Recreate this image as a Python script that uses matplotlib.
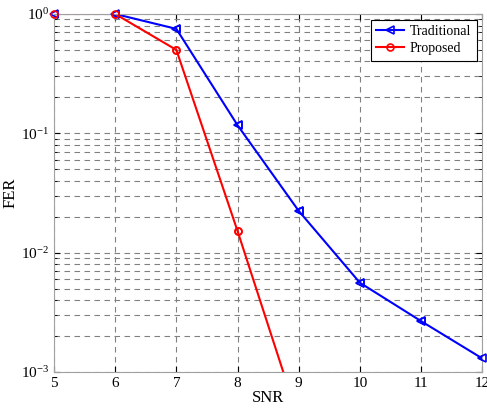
import numpy as np
import matplotlib
matplotlib.use('Agg')
import matplotlib.pyplot as plt
from matplotlib.ticker import LogLocator, NullFormatter

plt.rcParams['font.family'] = ['Liberation Serif', 'DejaVu Serif']
plt.rcParams['mathtext.fontset'] = 'stix'

# data
snr = [5, 6, 7, 8, 9, 10, 11, 12]
fer_traditional = [1.0, 1.0, 0.75, 0.117, 0.0224, 0.0056, 0.00267, 0.0013]
snr_proposed = [5, 6, 7, 8, 9]
fer_proposed = [1.0, 1.0, 0.50, 0.0152, 0.0004]

fig = plt.figure(figsize=(4.87, 4.11), dpi=100)
ax = fig.add_axes([0.111, 0.095, 0.879, 0.871])

ax.semilogy(snr, fer_traditional, color='#0000ff', lw=1.5, marker='<',
            ms=6, mfc='none', mew=1.2, label='Traditional')
ax.semilogy(snr_proposed, fer_proposed, color='#ff0000', lw=1.5, marker='o',
            ms=5, mfc='none', mew=1.2, label='Proposed')

# markers on the border are not clipped (matlab style)
for xs, ys, c, m, ms in [(snr, fer_traditional, '#0000ff', '<', 6),
                         (snr_proposed, fer_proposed, '#ff0000', 'o', 5)]:
    keep = [(a, b) for a, b in zip(xs, ys) if b >= 1e-3]
    ax.plot([k[0] for k in keep], [k[1] for k in keep], ls='none', marker=m,
            ms=ms, mfc='none', mec=c, mew=1.2, clip_on=False, zorder=5)

ax.set_xlim(5, 12)
ax.set_ylim(1e-3, 1)
ax.set_xticks(range(5, 13))
ax.yaxis.set_major_locator(LogLocator(base=10, numticks=10))
ax.yaxis.set_minor_locator(LogLocator(base=10, subs=np.arange(2, 10), numticks=10))
ax.yaxis.set_minor_formatter(NullFormatter())

ax.grid(True, which='both', ls=(0, (5, 4)), color='#808080', lw=0.8)
ax.tick_params(which='both', direction='in', top=True, right=True,
               labelsize=11, colors='black')
ax.tick_params(which='major', length=4)
ax.tick_params(which='minor', length=2)
for s in ax.spines.values():
    s.set_color('#a0a0a0')

ax.set_xlabel('SNR', fontsize=12, labelpad=0)
ax.set_ylabel('FER', fontsize=12, labelpad=2)

leg = ax.legend(loc='upper right', fontsize=10, fancybox=False,
                edgecolor='black', framealpha=1, handlelength=2.0,
                labelspacing=0.3, borderaxespad=0.4, handletextpad=0.4)
leg.get_frame().set_linewidth(0.8)

fig.savefig('out.png', dpi=100)
